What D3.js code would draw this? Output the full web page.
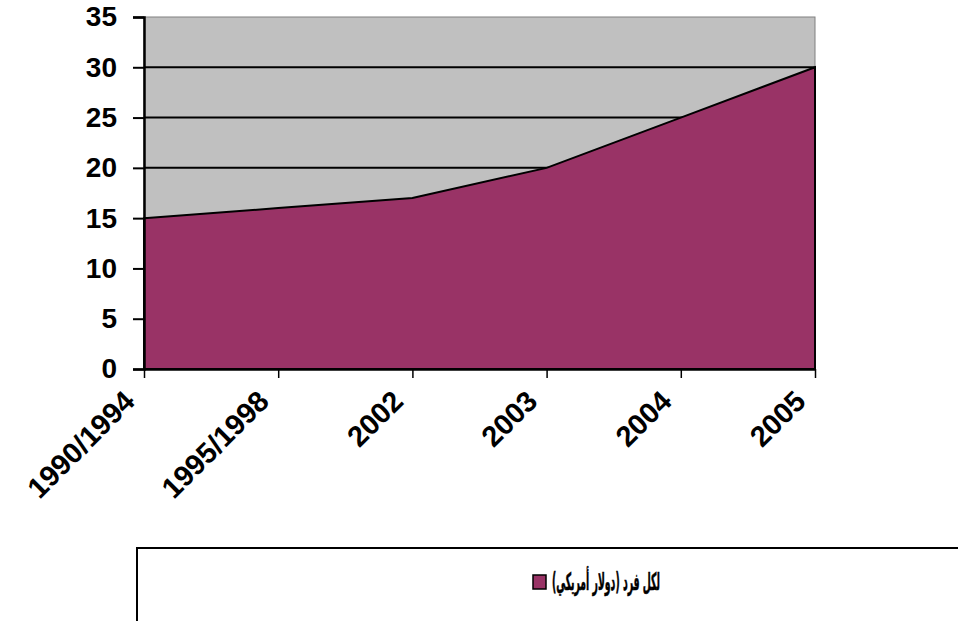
<!DOCTYPE html>
<html>
<head>
<meta charset="utf-8">
<script src="https://cdn.jsdelivr.net/npm/d3@7"></script>
<style>
  body { margin: 0; background: #fff; }
  svg text { font-family: "Liberation Sans", Arial, sans-serif; font-weight: bold; }
</style>
</head>
<body>
<div id="wrapper"></div>
<script>
// data
const categories = ["1990/1994", "1995/1998", "2002", "2003", "2004", "2005"]
const values = [15, 16, 17, 20, 25, 30]
const yTicks = [0, 5, 10, 15, 20, 25, 30, 35]
const seriesName = "لكل فرد (دولار أمريكي)"

const width = 958
const height = 621
const plot = { left: 144, right: 815, top: 17, bottom: 369 }

const svg = d3.select("#wrapper")
  .append("svg")
    .attr("width", width)
    .attr("height", height)

const xScale = d3.scalePoint()
  .domain(categories)
  .range([plot.left, plot.right])

const yScale = d3.scaleLinear()
  .domain([0, 35])
  .range([plot.bottom, plot.top])

// plot background
svg.append("rect")
  .attr("x", plot.left)
  .attr("y", plot.top)
  .attr("width", plot.right - plot.left)
  .attr("height", plot.bottom - plot.top)
  .attr("fill", "#c0c0c0")
  .attr("stroke", "#808080")
  .attr("stroke-width", 1)

// gridlines
svg.append("g")
  .selectAll("line")
  .data(yTicks.filter(d => d > 0 && d < 35))
  .join("line")
    .attr("x1", plot.left)
    .attr("x2", plot.right)
    .attr("y1", d => yScale(d))
    .attr("y2", d => yScale(d))
    .attr("stroke", "#000")
    .attr("stroke-width", 2)

// area
const area = d3.area()
  .x((d, i) => xScale(categories[i]))
  .y0(yScale(0))
  .y1(d => yScale(d))

svg.append("path")
  .datum(values)
  .attr("d", area)
  .attr("fill", "#993366")
  .attr("stroke", "#000")
  .attr("stroke-width", 2)

// y axis
const yAxis = svg.append("g")
  .attr("transform", `translate(${plot.left},0)`)
  .call(d3.axisLeft(yScale).tickValues(yTicks).tickSize(11).tickPadding(16))
yAxis.select(".domain").attr("stroke-width", 2.5)
yAxis.selectAll(".tick line").attr("stroke-width", 2)
yAxis.selectAll("text")
  .attr("fill", "#000")
  .style("font-size", "28px")

// x axis
const xAxis = svg.append("g")
  .attr("transform", `translate(0,${plot.bottom})`)
  .call(d3.axisBottom(xScale).tickSize(9).tickSizeOuter(0))
xAxis.select(".domain").attr("stroke-width", 2.5)
xAxis.selectAll(".tick line").attr("stroke-width", 1.5)
xAxis.selectAll(".tick text")
  .attr("fill", "#000")
  .style("font-size", "29px")
  .attr("text-anchor", "end")
  .attr("dy", 0)
  .attr("y", 0)
  .attr("transform", "translate(-8,34) rotate(-45)")

// legend
const legend = svg.append("g")
legend.append("rect")
  .attr("x", 137)
  .attr("y", 548)
  .attr("width", 900)
  .attr("height", 200)
  .attr("fill", "#fff")
  .attr("stroke", "#000")
  .attr("stroke-width", 2)
legend.append("rect")
  .attr("x", 533)
  .attr("y", 575)
  .attr("width", 13)
  .attr("height", 14)
  .attr("fill", "#993366")
  .attr("stroke", "#000")
  .attr("stroke-width", 1.5)
legend.append("text")
  .attr("x", 660)
  .attr("y", 590)
  .attr("direction", "rtl")
  .attr("text-anchor", "start")
  .attr("textLength", 108)
  .attr("lengthAdjust", "spacingAndGlyphs")
  .style("font-family", "'DejaVu Sans', sans-serif")
  .style("font-size", "24px")
  .style("stroke", "#000")
  .style("stroke-width", 0.6)
  .text(seriesName)
</script>
</body>
</html>
